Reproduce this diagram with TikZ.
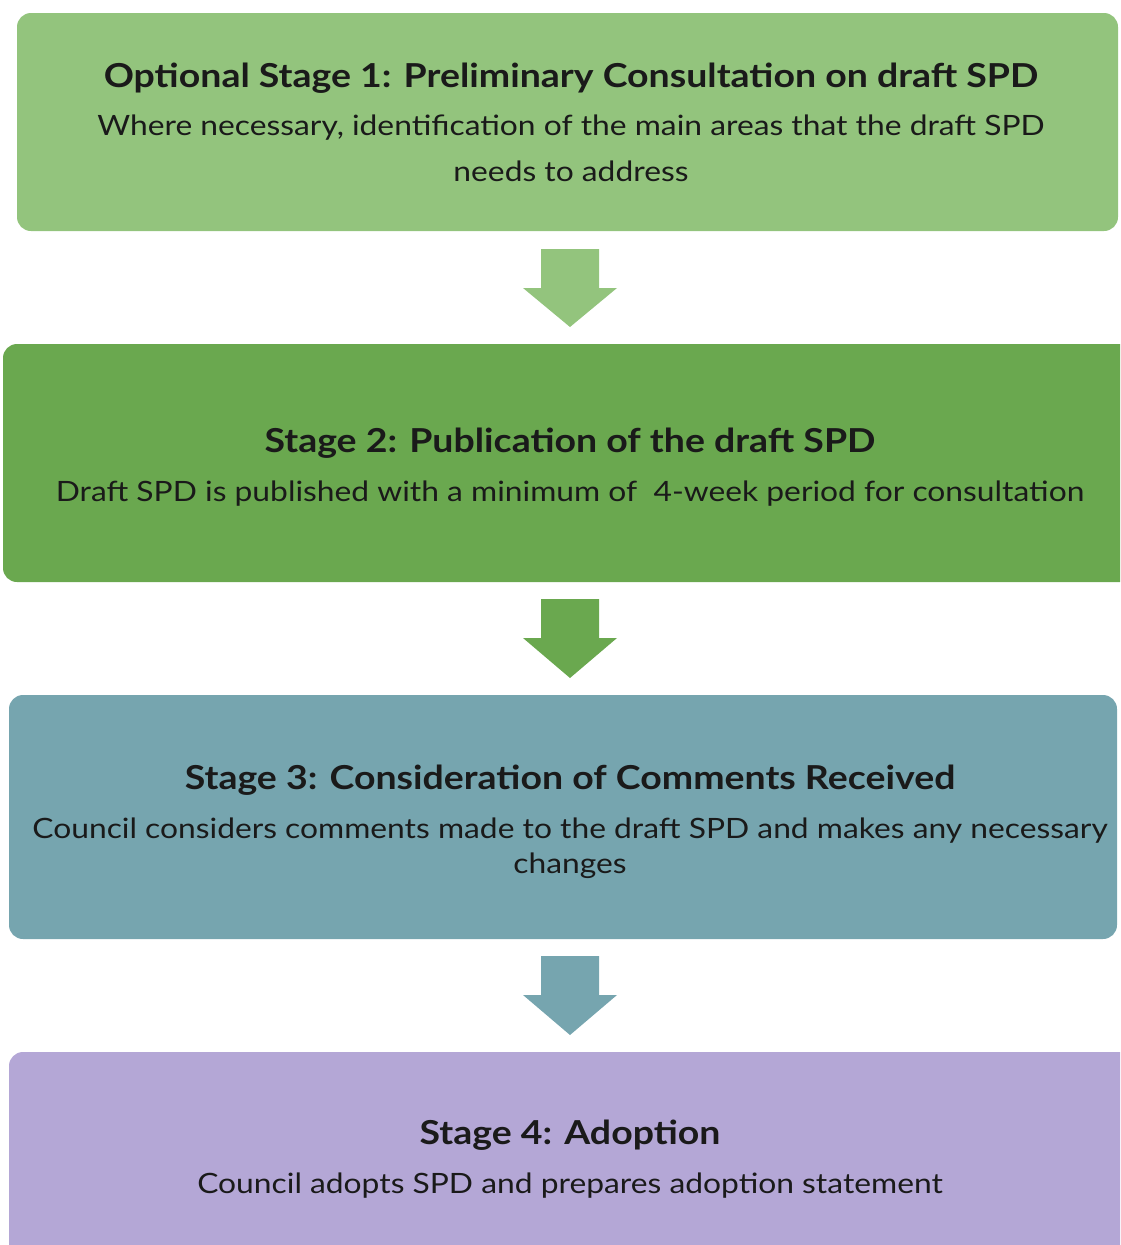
\documentclass[tikz,border=0pt]{standalone}
\usepackage{fontspec}
\setmainfont{Lato}[FakeStretch=1.135]
\definecolor{cA}{HTML}{93C47D}
\definecolor{cB}{HTML}{6AA84F}
\definecolor{cC}{HTML}{76A5AF}
\definecolor{cD}{HTML}{B4A7D6}
\definecolor{ink}{HTML}{1A1A1A}
\tikzset{
  stagebox/.style={rounded corners=14pt, draw=none, inner sep=0pt},
  ttl/.style={anchor=base, inner sep=0pt, text=ink, font=\fontsize{33}{40}\selectfont\bfseries},
  bdy/.style={anchor=base, inner sep=0pt, text=ink, font=\fontsize{28}{34}\selectfont},
  blockarrow/.style={draw=none}
}
\begin{document}
\begin{tikzpicture}[x=1pt,y=-1pt]
\useasboundingbox (0,0) rectangle (1120,1245);
\clip (0,0) rectangle (1120,1245);
% boxes
\node (b1) [stagebox, fill=cA, minimum width=1101pt, minimum height=218pt] at (567.5,122) {};
\node (b2) [stagebox, fill=cB, minimum width=1132pt, minimum height=238pt] at (569,463) {};
\node (b3) [stagebox, fill=cC, minimum width=1108pt, minimum height=244pt] at (563,817) {};
\node (b4) [stagebox, fill=cD, minimum width=1126pt, minimum height=208pt] at (572,1156) {};
% arrows
\fill[cA] (541,249) -- (599,249) -- (599,288) -- (617,288) -- (570,327) -- (523,288) -- (541,288) -- cycle;
\fill[cB] (541,599) -- (599,599) -- (599,638) -- (617,638) -- (570,678) -- (523,638) -- (541,638) -- cycle;
\fill[cC] (541,956) -- (599,956) -- (599,995) -- (617,995) -- (570,1035) -- (523,995) -- (541,995) -- cycle;
% texts
\node (t1) [ttl] at (571,87) {Optional Stage 1: Preliminary Consultation on draft SPD};
\node (d1a) [bdy] at (571,135) {Where necessary, identification of the main areas that the draft SPD};
\node (d1b) [bdy] at (571,181) {needs to address};
\node (t2) [ttl] at (570,452) {Stage 2: Publication of the draft SPD};
\node (d2) [bdy] at (570,501) {Draft SPD is published with a minimum of\ \ 4-week period for consultation};
\node (t3) [ttl] at (570,789) {Stage 3: Consideration of Comments Received};
\node (d3a) [bdy] at (570,838) {Council considers comments made to the draft SPD and makes any necessary};
\node (d3b) [bdy] at (570,873) {changes};
\node (t4) [ttl] at (570,1144) {Stage 4: Adoption};
\node (d4) [bdy] at (570,1193) {Council adopts SPD and prepares adoption statement};
\end{tikzpicture}
\end{document}
